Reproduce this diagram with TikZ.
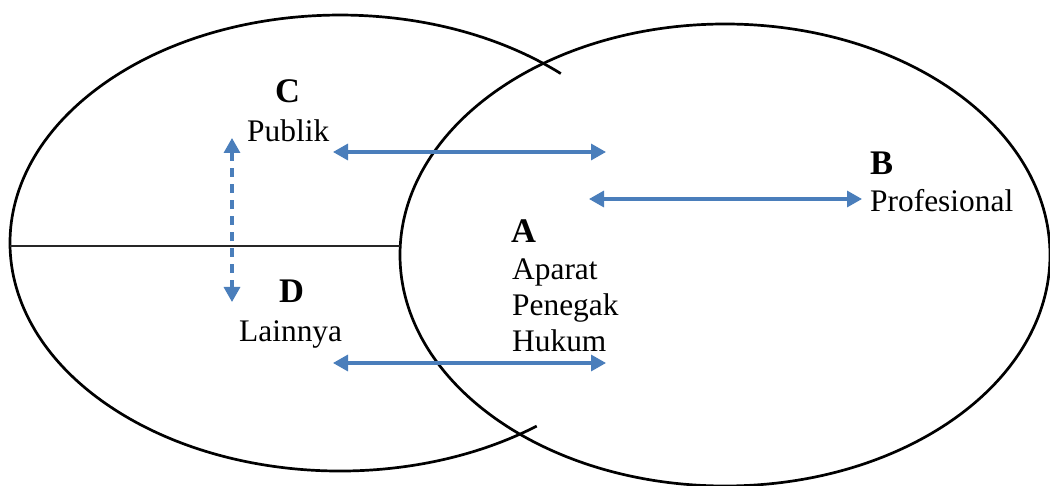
\documentclass[tikz,border=0pt]{standalone}
\usepackage{fontspec}
\setmainfont{Liberation Serif}
\usetikzlibrary{arrows.meta}
\definecolor{arrowblue}{HTML}{4A7EBB}
\tikzset{
  outline/.style={draw=black, line width=2.7pt},
  divider/.style={draw=black!85, line width=2.2pt},
  link/.style={draw=arrowblue, line width=3.2pt, {Triangle[length=15pt,width=16pt]}-{Triangle[length=15pt,width=16pt]}},
  dashlink/.style={link, dash pattern=on 9pt off 7pt},
  lbl/.style={inner sep=0pt, anchor=base west, font=\fontsize{31.4pt}{36pt}\selectfont},
  letter/.style={inner sep=0pt, anchor=base west, font=\fontsize{34.5pt}{38pt}\selectfont\bfseries},
}
\begin{document}
\begin{tikzpicture}[x=1pt,y=-1pt]
\useasboundingbox (0,0) rectangle (1050,486);
% right ellipse
\draw[outline] (725,255) ellipse [x radius=325pt, y radius=231pt];
% left ellipse (visible part)
\draw[outline] (560.8,73.6) arc [start angle=48, end angle=306.6, x radius=330pt, y radius=228pt];
% divider
\coordinate (hl) at (10,246);
\coordinate (hr) at (400.3,246);
\draw[divider] (hl) -- (hr);
% labels
\node[letter] (C) at (275,103) {C};
\node[lbl] (publik) at (247,142) {Publik};
\node[letter] (D) at (279,303) {D};
\node[lbl] (lainnya) at (239,342) {Lainnya};
\node[letter] (A) at (511,243) {A};
\node[lbl] (aparat) at (512,280) {Aparat};
\node[lbl] (penegak) at (512,316) {Penegak};
\node[lbl] (hukum) at (512,352) {Hukum};
\node[letter] (B) at (870,175) {B};
\node[lbl] (prof) at (870,212) {Profesional};
% arrow ends
\coordinate (a1l) at (333,152);
\coordinate (a1r) at (606,152);
\coordinate (a2l) at (589,199);
\coordinate (a2r) at (862,199);
\coordinate (a3l) at (333,363);
\coordinate (a3r) at (606,363);
\coordinate (dt) at (232,138);
\coordinate (db) at (232,302);
\draw[link] (a1l) -- (a1r);
\draw[link] (a2l) -- (a2r);
\draw[link] (a3l) -- (a3r);
\draw[dashlink] (dt) -- (db);
\end{tikzpicture}
\end{document}
